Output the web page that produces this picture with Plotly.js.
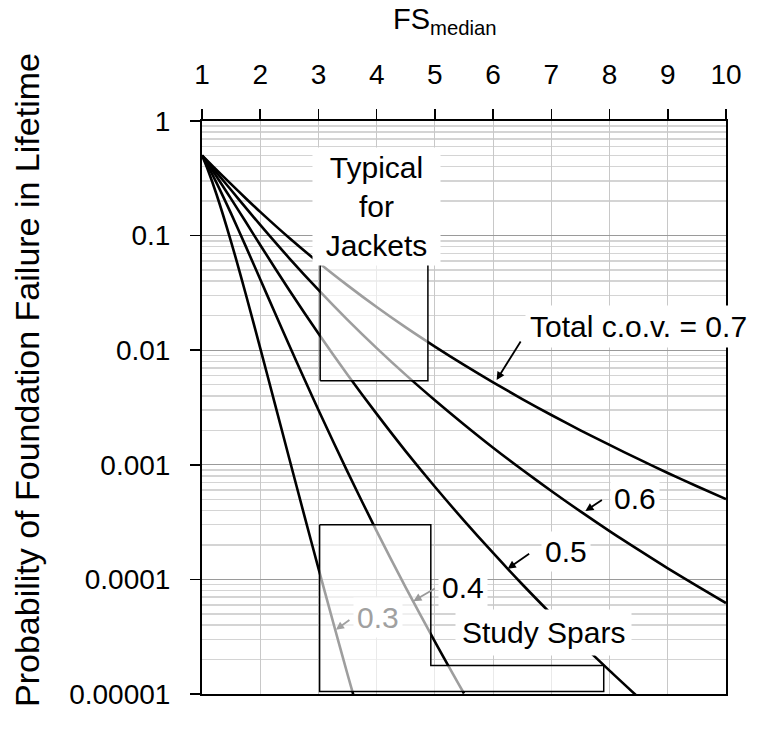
<!DOCTYPE html>
<html>
<head>
<meta charset="utf-8">
<script src="https://cdn.plot.ly/plotly-3.0.1.min.js"></script>
<style>
html,body{margin:0;padding:0;background:#fff;}
#chart{width:760px;height:737px;}
</style>
</head>
<body>
<div id="chart"></div>
<script>
// ---- data ----
const fs07 = [1, 1.1, 1.25, 1.5, 1.75, 2, 2.5, 3, 3.5, 4, 4.5, 5, 5.5, 6, 6.5, 7, 7.5, 8, 8.5, 9, 9.5, 10];
const pf07 = [0.5, 0.446, 0.375, 0.281, 0.212, 0.161, 0.0953, 0.0583, 0.0368, 0.0238, 0.0158, 0.01075, 0.00744, 0.00524, 0.00375, 0.00272, 0.0020, 0.00149, 0.00112, 0.000848, 0.00065, 0.000502];

const fs06 = [1, 1.1, 1.25, 1.5, 1.75, 2, 2.5, 3, 3.5, 4, 4.5, 5, 5.5, 6, 6.5, 7, 7.5, 8, 8.5, 9, 9.5, 10];
const pf06 = [0.5, 0.437, 0.355, 0.250, 0.1755, 0.124, 0.0634, 0.0336, 0.0184, 0.01043, 0.00609, 0.00366, 0.00225, 0.00141, 0.000905, 0.000591, 0.000392, 0.000264, 0.000181, 0.000125, 0.0000877, 0.0000621];

const fs05 = [1, 1.1, 1.25, 1.5, 1.75, 2, 2.5, 3, 3.5, 4, 4.5, 5, 5.5, 6, 6.5, 7, 7.5, 8, 8.5];
const pf05 = [0.5, 0.424, 0.328, 0.209, 0.132, 0.0828, 0.0334, 0.0140, 0.00611, 0.00278, 0.00131, 0.000643, 0.000326, 0.000170, 0.0000907, 0.0000498, 0.0000279, 0.0000160, 0.0000093];

const fs04 = [1, 1.1, 1.25, 1.5, 1.75, 2, 2.25, 2.5, 2.75, 3, 3.5, 4, 4.5, 5, 5.5];
const pf04 = [0.5, 0.406, 0.2885, 0.1554, 0.0809, 0.0416, 0.0213, 0.0110, 0.00572, 0.00301, 0.000868, 0.000264, 0.0000849, 0.0000287, 0.0000101];

const fs03 = [1, 1.1, 1.25, 1.5, 1.75, 2, 2.25, 2.5, 2.75, 3, 3.25, 3.5, 3.6];
const pf03 = [0.5, 0.3754, 0.2285, 0.0883, 0.0311, 0.01043, 0.00344, 0.00113, 0.000373, 0.000125, 0.0000427, 0.0000148, 0.0000098];

// study-region outlines
const jacketBoxX = [3.03, 4.88, 4.88, 3.03, 3.03];
const jacketBoxY = [0.0054, 0.0054, 0.1, 0.1, 0.0054];
const sparBoxX = [3.02, 4.93, 4.93, 7.9, 7.9, 3.02, 3.02];
const sparBoxY = [0.0003, 0.0003, 0.0000177, 0.0000177, 0.0000105, 0.0000105, 0.0003];

// axis ticks
const xTicks = [1, 2, 3, 4, 5, 6, 7, 8, 9, 10];
const yTicks = [0.00001, 0.0001, 0.001, 0.01, 0.1, 1];
const yTickText = ["0.00001", "0.0001", "0.001", "0.01", "0.1", "1"];

// ---- build ----
const FONT = "Liberation Sans, Arial, sans-serif";
const minorVals = [];
for (let e = -5; e < 0; e++) {
  for (let d = 2; d <= 9; d++) minorVals.push(d * Math.pow(10, e));
}

function curve(x, y) {
  return {x: x, y: y, type: 'scatter', mode: 'lines',
    line: {color: '#000', width: 2.6, shape: 'spline', smoothing: 0.8},
    hoverinfo: 'skip'};
}
function box(x, y) {
  return {x: x, y: y, type: 'scatter', mode: 'lines', fill: 'toself',
    fillcolor: 'rgba(255,255,255,0.62)',
    line: {color: '#000', width: 1.5}, hoverinfo: 'skip'};
}

const traces = [
  curve(fs07, pf07), curve(fs06, pf06), curve(fs05, pf05),
  curve(fs04, pf04), curve(fs03, pf03),
  box(jacketBoxX, jacketBoxY), box(sparBoxX, sparBoxY)
];

const L = Math.log10;
function label(text, x, y, opts) {
  return Object.assign({text: text, x: x, y: L(y), xref: 'x', yref: 'y',
    showarrow: false, font: {family: FONT, size: 30, color: '#000'},
    bgcolor: '#fff', borderpad: 3}, opts || {});
}
function arrow(x, y, ax, ay, color) {
  return {text: '', x: x, y: L(y), xref: 'x', yref: 'y', showarrow: true,
    ax: ax, ay: ay, arrowhead: 2, arrowsize: 0.9, arrowwidth: 1.8,
    arrowcolor: color || '#000', standoff: 0, startstandoff: 0};
}

const annotations = [
  label('Typical<br>for<br>Jackets', 4.0, 0.181, {width: 127, height: 117, borderpad: 0}),
  label('Total c.o.v. = 0.7', 6.55, 0.0162, {xanchor: 'left', borderpad: 4}),
  arrow(6.06, 0.0055, 25, -40),
  label('0.6', 8.44, 0.00051),
  arrow(7.585, 0.000395, 18, -12),
  label('0.5', 7.26, 0.000176),
  arrow(6.25, 0.000124, 23, -16),
  label('0.4', 5.49, 0.0000845),
  arrow(4.63, 0.0000646, 23, -13.5, '#999'),
  label('0.3', 4.02, 0.0000462, {font: {family: FONT, size: 30, color: '#a0a0a0'}}),
  arrow(3.3, 0.0000363, 15, -11, '#a0a0a0'),
  label('Study Spars', 6.87, 0.0000344, {borderpad: 6}),
  {text: 'FS<sub>median</sub>', xref: 'paper', yref: 'paper', x: 0.4637, y: 1.1745,
    xanchor: 'center', yanchor: 'middle', showarrow: false,
    font: {family: FONT, size: 29, color: '#000'}},
  {text: 'Probability of Foundation Failure in Lifetime', xref: 'paper', yref: 'paper',
    x: -0.334, y: 0.548, xanchor: 'center', yanchor: 'middle', textangle: -90,
    showarrow: false, font: {family: FONT, size: 34, color: '#000'}}
];

const layout = {
  width: 760, height: 737,
  margin: {l: 202, r: 34, t: 121, b: 43, pad: 0},
  paper_bgcolor: '#fff', plot_bgcolor: '#fff',
  showlegend: false, hovermode: false,
  font: {family: FONT, color: '#000'},
  xaxis: {
    range: [1, 10], side: 'top', tickmode: 'array', tickvals: xTicks,
    ticks: 'outside', ticklen: 10, tickwidth: 1.5, tickcolor: '#000',
    ticklabelstandoff: 14,
    showgrid: true, gridcolor: '#c8c8c8', gridwidth: 1,
    showline: true, linecolor: '#000', linewidth: 2, mirror: true,
    zeroline: false, tickfont: {family: FONT, size: 28, color: '#000'},
    fixedrange: true
  },
  yaxis: {
    type: 'log', range: [-5, 0], tickmode: 'array', tickvals: yTicks, ticktext: yTickText,
    ticks: 'outside', ticklen: 10, tickwidth: 1.5, tickcolor: '#000',
    ticklabelstandoff: 14,
    showgrid: true, gridcolor: '#9a9a9a', gridwidth: 1.2,
    minor: {tickmode: 'array', tickvals: minorVals, showgrid: true,
      gridcolor: '#d4d4d4', gridwidth: 1.5, ticks: ''},
    showline: true, linecolor: '#000', linewidth: 2, mirror: true,
    zeroline: false, tickfont: {family: FONT, size: 28, color: '#000'},
    fixedrange: true
  },
  annotations: annotations
};

Plotly.newPlot('chart', traces, layout, {staticPlot: true, displayModeBar: false});
</script>
</body>
</html>
